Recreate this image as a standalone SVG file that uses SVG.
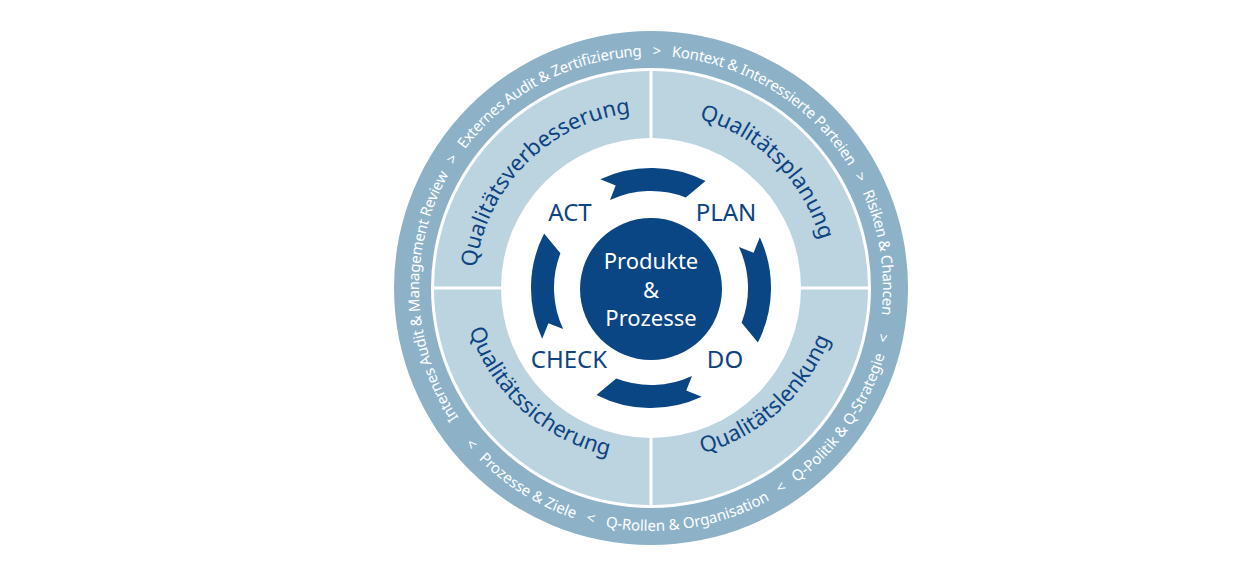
<svg xmlns="http://www.w3.org/2000/svg" xmlns:xlink="http://www.w3.org/1999/xlink" width="1260" height="587" viewBox="0 0 1260 587">
<style>
.ot{font-family:"Noto Sans","Open Sans",sans-serif;font-size:15px;fill:#fff;white-space:pre}
.qt{font-family:"Noto Sans","Open Sans",sans-serif;font-size:22px;fill:#0d4381}
.pd{font-family:"Noto Sans","Open Sans",sans-serif;font-size:24px;fill:#0d4381;text-anchor:middle}
.ct{font-family:"Noto Sans","Open Sans",sans-serif;font-size:22px;fill:#fff;text-anchor:middle}
.rib{fill:#0a4584}
</style>
<defs>
<path id="topOuter" d="M458.7,417.7 A232,232 0 1 1 869.0,367.3"/>
<path id="botOuter" d="M464.9,444.2 A243,243 0 0 0 890.3,330.2"/>
<path id="topQ" d="M475,288 A176,176 0 0 1 827,288"/>
<path id="botQ" d="M460,288 A192,192 0 0 0 842,288"/>
<path id="ribbon" d="M600.3,179.2 A120,120 0 0 1 705.5,181.1 L685.8,197.4 A97,97 0 0 0 610.0,200.1 L615.7,185.4 Z"/>
</defs>
<rect width="1260" height="587" fill="#fff"/>
<g id="outer-ring">
<circle cx="651" cy="288" r="257" fill="#8db2c8"/>
<circle cx="651" cy="288" r="220" fill="#fff"/>
<text class="ot" xml:space="preserve"><textPath xlink:href="#topOuter" href="#topOuter" textLength="893" lengthAdjust="spacing">Internes Audit &amp; Management Review   &gt;   Externes Audit &amp; Zertifizierung   &gt;   Kontext &amp; Interessierte Parteien   &gt;   Risiken &amp; Chancen</textPath></text>
<text class="ot" xml:space="preserve"><textPath xlink:href="#botOuter" href="#botOuter" textLength="546" lengthAdjust="spacing">&lt;   Prozesse &amp; Ziele   &lt;   Q-Rollen &amp; Organisation   &lt;   Q-Politik &amp; Q-Strategie   &lt;</textPath></text>
</g>
<g id="quadrants">
<circle cx="651" cy="288" r="217" fill="#bcd3e0"/>
<line x1="434" y1="288" x2="868" y2="288" stroke="#fff" stroke-width="3"/>
<line x1="651" y1="71" x2="651" y2="505" stroke="#fff" stroke-width="3"/>
<circle cx="651" cy="288" r="150" fill="#fff"/>
</g>
<g id="q-verbesserung"><text class="qt" text-anchor="middle"><textPath xlink:href="#topQ" href="#topQ" startOffset="25%">Qualitätsverbesserung</textPath></text></g>
<g id="q-planung"><text class="qt" text-anchor="middle"><textPath xlink:href="#topQ" href="#topQ" startOffset="75%">Qualitätsplanung</textPath></text></g>
<g id="q-sicherung"><text class="qt" text-anchor="middle"><textPath xlink:href="#botQ" href="#botQ" startOffset="25%">Qualitätssicherung</textPath></text></g>
<g id="q-lenkung"><text class="qt" text-anchor="middle"><textPath xlink:href="#botQ" href="#botQ" startOffset="75%">Qualitätslenkung</textPath></text></g>
<g id="connectors">
<use href="#ribbon" xlink:href="#ribbon" class="rib"/>
<use href="#ribbon" xlink:href="#ribbon" class="rib" transform="rotate(90 651 288)"/>
<use href="#ribbon" xlink:href="#ribbon" class="rib" transform="rotate(180 651 288)"/>
<use href="#ribbon" xlink:href="#ribbon" class="rib" transform="rotate(270 651 288)"/>
</g>
<g id="act"><text class="pd" x="570" y="221">ACT</text></g>
<g id="plan"><text class="pd" x="726" y="221">PLAN</text></g>
<g id="check"><text class="pd" x="569" y="368">CHECK</text></g>
<g id="do"><text class="pd" x="725" y="368">DO</text></g>
<g id="center">
<circle cx="651" cy="289" r="71" fill="#0a4584"/>
<text class="ct" x="651" y="269">Produkte</text>
<text class="ct" x="651" y="298">&amp;</text>
<text class="ct" x="651" y="326">Prozesse</text>
</g>
</svg>
